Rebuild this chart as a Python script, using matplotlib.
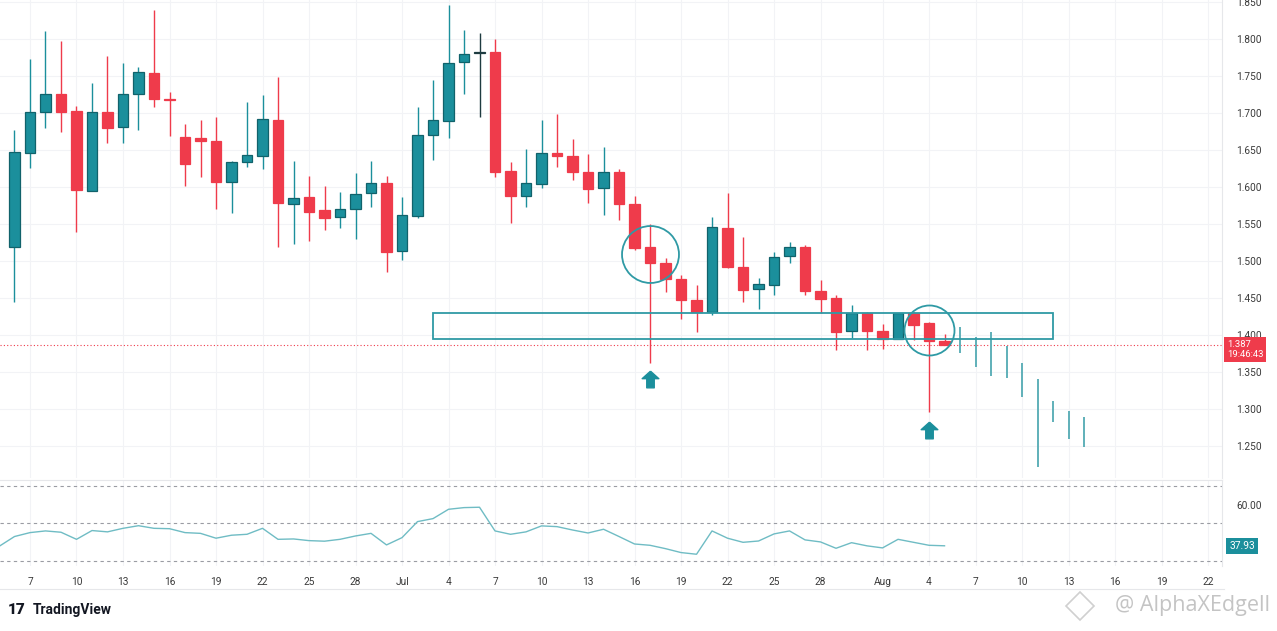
import numpy as np
import pandas as pd
import matplotlib
matplotlib.use("Agg")
import matplotlib.pyplot as plt
import matplotlib.dates as mdates
from matplotlib.path import Path
from matplotlib.lines import Line2D
from matplotlib.transforms import blended_transform_factory

plt.rcParams['font.family'] = ['Roboto', 'DejaVu Sans']

# --- data (daily candles, Jun 6 -> Aug 5) ---
dates = pd.date_range('2025-06-06', '2025-08-05', freq='D')
opens = [1.519, 1.646, 1.701, 1.726, 1.703, 1.595, 1.702, 1.681, 1.726, 1.754,
         1.719, 1.668, 1.666, 1.662, 1.607, 1.634, 1.642, 1.690, 1.577, 1.586,
         1.569, 1.559, 1.570, 1.592, 1.605, 1.514, 1.561, 1.670, 1.689, 1.769,
         1.781, 1.782, 1.622, 1.588, 1.604, 1.646, 1.642, 1.620, 1.598, 1.620,
         1.577, 1.519, 1.497, 1.476, 1.447, 1.431, 1.545, 1.492, 1.462, 1.468,
         1.507, 1.519, 1.459, 1.450, 1.405, 1.430, 1.405, 1.395, 1.430, 1.416,
         1.392]
highs = [1.677, 1.773, 1.811, 1.797, 1.709, 1.740, 1.777, 1.768, 1.762, 1.839,
         1.728, 1.685, 1.691, 1.694, 1.635, 1.715, 1.724, 1.748, 1.635, 1.615,
         1.601, 1.593, 1.619, 1.635, 1.615, 1.586, 1.708, 1.745, 1.846, 1.812,
         1.808, 1.800, 1.634, 1.651, 1.691, 1.699, 1.665, 1.645, 1.654, 1.624,
         1.588, 1.550, 1.504, 1.481, 1.467, 1.560, 1.592, 1.532, 1.477, 1.512,
         1.526, 1.521, 1.474, 1.454, 1.441, 1.431, 1.415, 1.430, 1.431, 1.418,
         1.401]
lows = [1.445, 1.626, 1.680, 1.674, 1.539, 1.595, 1.659, 1.660, 1.677, 1.708,
        1.669, 1.601, 1.613, 1.570, 1.565, 1.627, 1.624, 1.519, 1.523, 1.527,
        1.542, 1.544, 1.530, 1.573, 1.485, 1.501, 1.558, 1.636, 1.666, 1.726,
        1.695, 1.614, 1.551, 1.573, 1.599, 1.627, 1.609, 1.578, 1.562, 1.555,
        1.515, 1.362, 1.458, 1.422, 1.404, 1.427, 1.491, 1.445, 1.435, 1.454,
        1.497, 1.454, 1.430, 1.380, 1.396, 1.380, 1.381, 1.394, 1.393, 1.296,
        1.386]
closes = [1.647, 1.701, 1.726, 1.701, 1.596, 1.702, 1.680, 1.726, 1.755, 1.719,
          1.718, 1.631, 1.662, 1.607, 1.634, 1.643, 1.692, 1.578, 1.585, 1.566,
          1.558, 1.570, 1.590, 1.605, 1.512, 1.562, 1.670, 1.691, 1.768, 1.780,
          1.781, 1.620, 1.588, 1.605, 1.646, 1.642, 1.620, 1.597, 1.620, 1.577,
          1.517, 1.497, 1.476, 1.447, 1.431, 1.546, 1.492, 1.461, 1.469, 1.505,
          1.519, 1.460, 1.449, 1.404, 1.430, 1.405, 1.395, 1.430, 1.414, 1.392,
          1.387]

# projected path (bars drawn after the last candle)
proj_dates = pd.date_range('2025-08-06', '2025-08-14', freq='D')
proj_high = [1.411, 1.397, 1.404, 1.385, 1.362, 1.341, 1.311, 1.297, 1.289]
proj_low = [1.376, 1.357, 1.345, 1.342, 1.316, 1.222, 1.282, 1.259, 1.249]

# support zone
zone_start, zone_end = pd.Timestamp('2025-07-03'), pd.Timestamp('2025-08-12')
zone_low, zone_high = 1.395, 1.430

# marked wicks
marks = [pd.Timestamp('2025-07-17'), pd.Timestamp('2025-08-04')]
circle_prices = [1.5095, 1.4068]
arrow_prices = [1.3405, 1.2716]

last_price = 1.387
countdown = "19:46:43"

# RSI
rsi_dates = pd.date_range('2025-06-05', '2025-08-05', freq='D')
rsi = [37.6, 42.9, 45.0, 45.9, 45.2, 41.4, 46.1, 45.4, 47.3, 48.7, 47.3, 47.1, 45.0,
       44.6, 42.0, 43.6, 44.1, 47.3, 41.4, 41.6, 40.7, 40.4, 41.4, 43.2, 44.6, 38.4,
       42.3, 50.9, 52.5, 57.5, 58.4, 58.6, 45.9, 44.1, 45.4, 48.6, 48.2, 46.4, 44.8,
       46.8, 42.9, 38.9, 38.2, 36.4, 34.3, 33.4, 45.9, 42.0, 39.8, 40.5, 44.3, 45.9,
       41.1, 40.0, 36.6, 39.6, 37.9, 36.8, 41.4, 39.8, 38.2, 37.93]

UP = '#1b8f9c'
UP_EDGE = '#11626b'
DOWN = '#ef3b4b'
TEAL = '#2f9aa5'
GRID = '#f2f3f6'
TXT = '#3a3a3a'

W, H = 1277, 631
fig = plt.figure(figsize=(W / 100, H / 100), dpi=100)
fig.patch.set_facecolor('white')
ax = fig.add_axes([0, 1 - 478 / H, 1222 / W, 478 / H])
ax2 = fig.add_axes([0, 1 - 566 / H, 1222 / W, 86 / H], sharex=ax)

x = mdates.date2num(dates)
d0 = mdates.date2num(pd.Timestamp('2025-06-07'))
xmin, xmax = d0 - 1.935, d0 + 76.9

# candles
for xi, o, h, l, c in zip(x, opens, highs, lows, closes):
    if c > o:
        col, edge = UP, UP_EDGE
    elif c < o:
        col, edge = DOWN, DOWN
    else:
        col, edge = '#1e3b40', '#1e3b40'
    ax.vlines(xi, l, h, color=col, lw=1.0, zorder=2)
    body = max(abs(c - o), 0.0015)
    ax.bar(xi, body, bottom=min(o, c), width=0.65, color=col, edgecolor=edge,
           linewidth=0.9, zorder=3)

# projected bars
ax.vlines(mdates.date2num(proj_dates), proj_low, proj_high, color='#5fb0b9', lw=1.4, zorder=2)

# zone
zx0, zx1 = mdates.date2num(zone_start), mdates.date2num(zone_end)
ax.add_patch(plt.Rectangle((zx0, zone_low), zx1 - zx0, zone_high - zone_low,
                           fill=False, edgecolor=TEAL, lw=1.3, zorder=4))

# circles and arrows
mx = mdates.date2num(marks)
ax.plot(mx[0], circle_prices[0], 'o', ms=41, mfc='none', mec=TEAL, mew=1.3, zorder=5)
ax.plot(mx[1], circle_prices[1], 'o', ms=36, mfc='none', mec=TEAL, mew=1.3, zorder=5)
arrow = Path([(0, 1), (1, 0.1), (0.45, 0.1), (0.45, -1), (-0.45, -1), (-0.45, 0.1), (-1, 0.1), (0, 1)])
ax.plot(mx, arrow_prices, linestyle='none', marker=arrow, ms=12, color=UP, zorder=5)

# last price line + label
ax.axhline(last_price, color=DOWN, lw=0.8, ls=(0, (1, 2)), zorder=1)
bt = blended_transform_factory(ax.transAxes, ax.transData)
ax.annotate(f"{last_price:.3f}\n{countdown}", xy=(1.004, last_price), xycoords=bt,
            xytext=(0, -3.5), textcoords='offset points', ha='left', va='center',
            fontsize=6.8, color='white', linespacing=1.15, annotation_clip=False,
            bbox=dict(boxstyle='square,pad=0.3', fc=DOWN, ec='none'))

# price axis
ax.set_yticks(np.arange(1.25, 1.851, 0.05))
ax.yaxis.set_major_formatter(plt.FuncFormatter(lambda v, p: f"{v:.3f}"))
ax.yaxis.tick_right()
ax.tick_params(axis='y', length=0, pad=10, labelsize=7.3, labelcolor=TXT)
ax.tick_params(axis='x', length=0, labelbottom=False)

# time ticks: 1, 4, 7 ... 28 of each month, month name on the 1st
all_days = pd.date_range('2025-06-01', '2025-08-31', freq='D')
tick_days = [d for d in all_days if d.day in range(1, 29, 3)
             and xmin < mdates.date2num(d) < xmax - 0.5]
ticks = mdates.date2num(tick_days)
labels = [d.strftime('%b') if d.day == 1 else str(d.day) for d in tick_days]
ax2.set_xticks(ticks)
ax2.set_xticklabels(labels)
ax2.tick_params(axis='x', length=0, pad=8, labelsize=7.3, labelcolor=TXT)

for a in (ax, ax2):
    a.grid(True, color=GRID, lw=0.8)
    a.set_axisbelow(True)
    for s in a.spines.values():
        s.set_visible(False)
    a.spines['right'].set_visible(True)
    a.spines['right'].set_color('#e6e7ea')
ax2.spines['top'].set_visible(True)
ax2.spines['top'].set_color('#e6e7ea')

# RSI pane
ax2.plot(mdates.date2num(rsi_dates), rsi, color='#6fbcc4', lw=1.0, zorder=3)
for lvl in (70, 50, 30):
    ax2.axhline(lvl, color='#9a9ca3', lw=0.8, ls=(0, (3, 3)), zorder=2)
ax2.set_yticks([60])
ax2.yaxis.set_major_formatter(plt.FuncFormatter(lambda v, p: f"{v:.2f}"))
ax2.yaxis.tick_right()
ax2.tick_params(axis='y', length=0, pad=10, labelsize=7.3, labelcolor=TXT)
ax2.grid(False, axis='y')
bt2 = blended_transform_factory(ax2.transAxes, ax2.transData)
ax2.text(1.006, rsi[-1], f"{rsi[-1]:.2f}", transform=bt2, ha='left', va='center', fontsize=7.4,
         color='white', clip_on=False, bbox=dict(boxstyle='square,pad=0.3', fc=UP, ec='none'))

ax.set_ylim(1.2068, 1.8527)
ax2.set_ylim(27.1, 73.2)
ax.set_xlim(xmin, xmax)

# time-axis bottom border
fig.add_artist(Line2D([0, 1224 / W], [1 - 589 / H] * 2, color='#e6e7ea', lw=0.8))

# footer
fig.text(8 / W, 1 - 610 / H, "17", fontsize=11, fontweight='black', color='#131722', va='center')
fig.text(33 / W, 1 - 610 / H, "TradingView", fontsize=10, fontweight='bold', color='#131722', va='center')
fig.text(1270 / W, 1 - 606 / H, "@ AlphaXEdgell", fontsize=15.5, color='#c4c4c4', ha='right', va='center',
         family=['Open Sans', 'DejaVu Sans'])
fig.add_artist(Line2D([1080 / W], [1 - 606 / H], marker='D', ms=14, mfc='none', mec='#d0d0d0', mew=1.2))

fig.savefig('out.png', dpi=100, facecolor='white')
